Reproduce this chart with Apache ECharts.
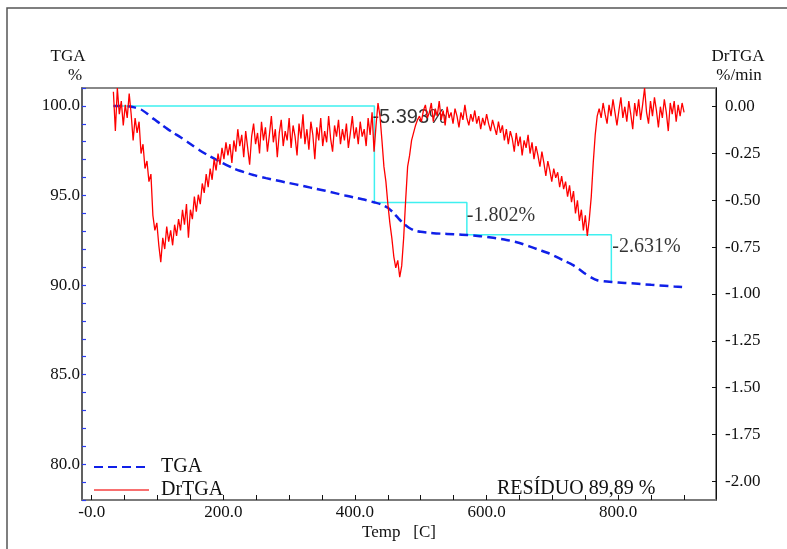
<!DOCTYPE html>
<html>
<head>
<meta charset="utf-8">
<title>TGA / DrTGA</title>
<script src="https://cdn.jsdelivr.net/npm/echarts@6/dist/echarts.min.js"></script>
<style>
  html, body { margin: 0; padding: 0; background: #ffffff; }
  #chart { width: 787px; height: 549px; }
</style>
</head>
<body>
<div id="chart"></div>
<script>
// ---- TGA mass curve: temperature (C) and remaining mass (%) ----
const tgaTemps = [33, 45, 55, 65, 75, 85, 95, 105, 115, 125, 135, 145, 155, 165, 175, 185, 195, 205, 215, 225,
  235, 250, 265, 280, 295, 310, 325, 340, 355, 370, 385, 400, 415, 430, 440, 450, 458, 466, 474, 482,
  490, 500, 515, 530, 550, 570, 590, 610, 630, 650, 665, 680, 695, 710, 720, 730, 740, 750, 760, 768,
  778, 790, 810, 830, 850, 870, 885, 897];
const tgaMass = [100.00, 100.00, 99.98, 99.92, 99.80, 99.55, 99.25, 98.98, 98.72, 98.48, 98.25, 98.00, 97.75, 97.50, 97.28, 97.08, 96.88, 96.70, 96.52, 96.38,
  96.26, 96.10, 95.97, 95.85, 95.73, 95.62, 95.50, 95.38, 95.26, 95.13, 95.00, 94.88, 94.76, 94.61, 94.50, 94.32, 94.05, 93.72, 93.42, 93.20,
  93.05, 92.97, 92.91, 92.87, 92.84, 92.80, 92.73, 92.64, 92.52, 92.35, 92.16, 91.96, 91.76, 91.50, 91.32, 91.14, 90.90, 90.63, 90.40, 90.27,
  90.21, 90.17, 90.12, 90.07, 90.01, 89.96, 89.92, 89.89];

// ---- DrTGA derivative (%/min), sampled every 3 C from 33 C ----
const drStartTemp = 33;
const drStepTemp = 3;
const drRate = [
  0.08, -0.13, 0.10, -0.04, 0.03, -0.10, 0.01, -0.06, 0.07, -0.04,
  -0.18, -0.06, -0.14, -0.08, -0.25, -0.20, -0.33, -0.29, -0.40, -0.36,
  -0.58, -0.66, -0.62, -0.74, -0.83, -0.70, -0.76, -0.64, -0.72, -0.66,
  -0.74, -0.63, -0.69, -0.60, -0.66, -0.55, -0.63, -0.52, -0.70, -0.55,
  -0.60, -0.48, -0.56, -0.47, -0.52, -0.41, -0.46, -0.36, -0.43, -0.33,
  -0.39, -0.28, -0.34, -0.25, -0.31, -0.22, -0.28, -0.19, -0.26, -0.20,
  -0.30, -0.18, -0.24, -0.12, -0.21, -0.15, -0.27, -0.13, -0.22, -0.31,
  -0.16, -0.09, -0.20, -0.14, -0.25, -0.08, -0.18, -0.11, -0.24, -0.15,
  -0.05, -0.19, -0.12, -0.27, -0.14, -0.07, -0.21, -0.13, -0.18, -0.06,
  -0.22, -0.10, -0.16, -0.26, -0.09, -0.17, -0.04, -0.20, -0.12, -0.23,
  -0.08, -0.15, -0.28, -0.11, -0.18, -0.06, -0.21, -0.13, -0.19, -0.05,
  -0.17, -0.24, -0.10, -0.16, -0.07, -0.20, -0.12, -0.18, -0.09, -0.22,
  -0.14, -0.05, -0.17, -0.11, -0.20, -0.08, -0.16, -0.12, -0.21, -0.06,
  -0.15, -0.03, -0.24, -0.10, 0.02, -0.05, -0.18, -0.32, -0.40, -0.52,
  -0.62, -0.70, -0.80, -0.86, -0.82, -0.91, -0.85, -0.70, -0.50, -0.32,
  -0.26, -0.18, -0.14, -0.10, -0.07, -0.05, -0.08, -0.02, 0.01, -0.06,
  -0.03, 0.02, -0.08, -0.01, -0.05, 0.03, -0.07, -0.02, -0.10, 0.00,
  -0.06, -0.03, -0.09, -0.01, -0.05, -0.11, -0.03, -0.07, 0.01, -0.06,
  -0.10, -0.04, -0.08, -0.02, -0.09, -0.05, -0.12, -0.06, -0.10, -0.04,
  -0.09, -0.13, -0.07, -0.11, -0.15, -0.08, -0.14, -0.10, -0.18, -0.12,
  -0.20, -0.13, -0.17, -0.24, -0.14, -0.21, -0.16, -0.26, -0.18, -0.22,
  -0.15, -0.25, -0.19, -0.28, -0.21, -0.26, -0.32, -0.24, -0.30, -0.37,
  -0.29, -0.34, -0.40, -0.33, -0.38, -0.35, -0.43, -0.37, -0.44, -0.40,
  -0.48, -0.42, -0.51, -0.45, -0.57, -0.50, -0.61, -0.55, -0.66, -0.58,
  -0.69, -0.60, -0.48, -0.30, -0.15, -0.05, -0.01, -0.06, 0.02, -0.04,
  -0.09, 0.01, -0.05, 0.04, -0.03, -0.10, -0.02, 0.05, -0.06, 0.00,
  -0.08, 0.03, -0.04, -0.12, 0.02, -0.05, 0.04, -0.07, 0.01, 0.10,
  -0.03, -0.09, 0.03, -0.05, 0.05, -0.02, -0.11, 0.00, -0.06, 0.04,
  -0.03, -0.13, 0.02, -0.04, 0.03, -0.08, 0.01, -0.05, 0.02, -0.03
];

// ---- Mass-loss steps: start temperature, step end temperatures and losses (%) ----
const stepStartTemp = 33;
const stepStartMass = 100.0;
const stepEndTemps = [429.5, 570, 789.5];
const stepLosses = [5.393, 1.802, 2.631];

const residueText = 'RESÍDUO 89,89 %';

// ---- build series data ----
const tgaData = tgaTemps.map((t, i) => [t, tgaMass[i]]);
const drData = drRate.map((v, i) => [drStartTemp + i * drStepTemp, v]);

const stepData = [[stepStartTemp, stepStartMass]];
const stepCorners = [];
let level = stepStartMass;
stepEndTemps.forEach((t, i) => {
  stepData.push([t, level]);
  stepCorners.push({ t: t, level: level, loss: stepLosses[i] });
  level = +(level - stepLosses[i]).toFixed(3);
  stepData.push([t, level]);
});

const serif = '"Liberation Serif", "Times New Roman", serif';
const sans = '"Liberation Sans", Arial, sans-serif';
const labelOffsets = [[-2, 12], [0, 13], [1, 12]];
const labelFonts = [sans, serif, serif];
const hiddenSymbol = { opacity: 0, color: 'rgba(0,0,0,0)', borderWidth: 0 };

const chart = echarts.init(document.getElementById('chart'), null, { renderer: 'canvas' });

chart.setOption({
  animation: false,
  backgroundColor: '#ffffff',
  textStyle: { fontFamily: serif },
  title: {
    text: residueText,
    left: 497,
    top: 479,
    padding: 0,
    textStyle: { fontFamily: serif, fontSize: 20, fontWeight: 'normal', color: '#111' }
  },
  legend: {
    orient: 'vertical',
    left: 93,
    top: 457,
    padding: 0,
    itemWidth: 55,
    itemHeight: 14,
    itemGap: 3,
    itemStyle: hiddenSymbol,
    textStyle: { fontFamily: serif, fontSize: 20, color: '#111', lineHeight: 20, padding: [0, 0, 0, 7] },
    data: [
      { name: 'TGA', itemStyle: hiddenSymbol },
      { name: 'DrTGA', itemStyle: hiddenSymbol, lineStyle: { color: '#f87070', width: 2 } }
    ]
  },
  graphic: [{
    type: 'rect',
    silent: true,
    shape: { x: 7, y: 8, width: 900, height: 700 },
    style: { fill: 'none', stroke: '#555', lineWidth: 1.5 }
  }],
  grid: [
    { left: 82, right: 71, top: 88, bottom: 49, show: true, borderColor: '#888', borderWidth: 2 },
    { left: 91.7, right: 103.1, top: 88, bottom: 49 },
    { left: 82, right: 71, top: 106.7, bottom: 67.7 }
  ],
  xAxis: [
    {
      gridIndex: 0, type: 'value', min: -14.7, max: 948.5, position: 'bottom',
      name: 'Temp   [C]', nameLocation: 'middle', nameGap: 24,
      nameTextStyle: { fontFamily: serif, fontSize: 17, color: '#111' },
      axisLine: { show: true, onZero: false, lineStyle: { color: '#777', width: 1.5 } },
      axisTick: { show: false }, axisLabel: { show: false }, splitLine: { show: false }
    },
    {
      gridIndex: 1, type: 'value', min: 0, max: 900, interval: 50, position: 'bottom',
      axisLine: { show: false, onZero: false },
      axisTick: { show: true, inside: true, length: 5, lineStyle: { color: '#111', width: 1 } },
      axisLabel: {
        margin: 4, fontFamily: serif, fontSize: 17, color: '#111',
        formatter: v => (Math.abs(v % 200) < 1e-6 ? (v === 0 ? '-0.0' : v.toFixed(1)) : '')
      },
      splitLine: { show: false }
    },
    { gridIndex: 2, type: 'value', min: 0, max: 1, show: false, axisLine: { onZero: false } }
  ],
  yAxis: [
    {
      gridIndex: 0, type: 'value', position: 'left', min: 78, max: 101, interval: 1,
      name: '{t|TGA}\n{p|%}', nameLocation: 'end', nameGap: 2.5,
      nameTextStyle: {
        align: 'center', verticalAlign: 'bottom', fontFamily: serif, fontSize: 17, color: '#111',
        rich: {
          t: { fontFamily: serif, fontSize: 17, color: '#111', lineHeight: 19, padding: [0, 28, 0, 0] },
          p: { fontFamily: serif, fontSize: 17, color: '#111', lineHeight: 19, padding: [0, 14, 0, 0] }
        }
      },
      axisLine: { show: true, onZero: false, lineStyle: { color: '#555', width: 1.5 } },
      axisTick: { show: true, inside: true, length: 4, lineStyle: { color: '#2b3cf0', width: 1.2 } },
      axisLabel: {
        margin: 2, fontFamily: serif, fontSize: 17, color: '#111',
        formatter: v => (Math.abs(v % 5) < 1e-6 ? v.toFixed(1) : '')
      },
      splitLine: { show: false }
    },
    {
      gridIndex: 0, type: 'value', position: 'right', min: -2.1, max: 0.1,
      name: '{t|DrTGA}\n{p|%/min}', nameLocation: 'end', nameGap: 2.5,
      nameTextStyle: {
        align: 'center', verticalAlign: 'bottom', fontFamily: serif, fontSize: 17, color: '#111',
        rich: {
          t: { fontFamily: serif, fontSize: 17, color: '#111', lineHeight: 19, padding: [0, 0, 0, 44] },
          p: { fontFamily: serif, fontSize: 17, color: '#111', lineHeight: 19, padding: [0, 0, 0, 46] }
        }
      },
      axisLine: { show: true, onZero: false, lineStyle: { color: '#111', width: 1 } },
      axisTick: { show: false }, axisLabel: { show: false }, splitLine: { show: false }
    },
    { gridIndex: 1, type: 'value', min: 0, max: 1, show: false, axisLine: { onZero: false } },
    {
      gridIndex: 2, type: 'value', position: 'right', min: -2, max: 0, interval: 0.25,
      axisLine: { show: false, onZero: false },
      axisTick: { show: true, inside: true, length: 4, lineStyle: { color: '#111', width: 1 } },
      axisLabel: { margin: 9, fontFamily: serif, fontSize: 17, color: '#111', formatter: v => v.toFixed(2) },
      splitLine: { show: false }
    }
  ],
  series: [
    {
      name: 'Steps',
      type: 'line',
      xAxisIndex: 0, yAxisIndex: 0,
      data: stepData,
      symbol: 'none',
      silent: true,
      z: 1,
      lineStyle: { color: '#3ff0f0', width: 1.5 }
    },
    {
      name: 'StepLabels',
      type: 'scatter',
      xAxisIndex: 0, yAxisIndex: 0,
      symbolSize: 0,
      silent: true,
      z: 1,
      data: stepCorners.map((c, i) => ({
        value: [c.t, c.level],
        label: {
          show: true,
          position: 'right',
          distance: 0,
          offset: labelOffsets[i],
          formatter: '-' + c.loss.toFixed(3) + '%',
          fontFamily: labelFonts[i],
          fontSize: 20,
          color: '#000'
        }
      }))
    },
    {
      name: 'TGA',
      type: 'line',
      xAxisIndex: 0, yAxisIndex: 0,
      data: tgaData,
      symbol: 'none',
      smooth: 0.2,
      z: 2,
      itemStyle: { color: '#1020e8' },
      lineStyle: { color: '#1020e8', width: 2.5, type: [9, 5] }
    },
    {
      name: 'DrTGA',
      type: 'line',
      xAxisIndex: 0, yAxisIndex: 1,
      data: drData,
      symbol: 'none',
      z: 3,
      itemStyle: { color: '#ff0000' },
      lineStyle: { color: '#ff0000', width: 1.3 }
    }
  ]
});
</script>
</body>
</html>
